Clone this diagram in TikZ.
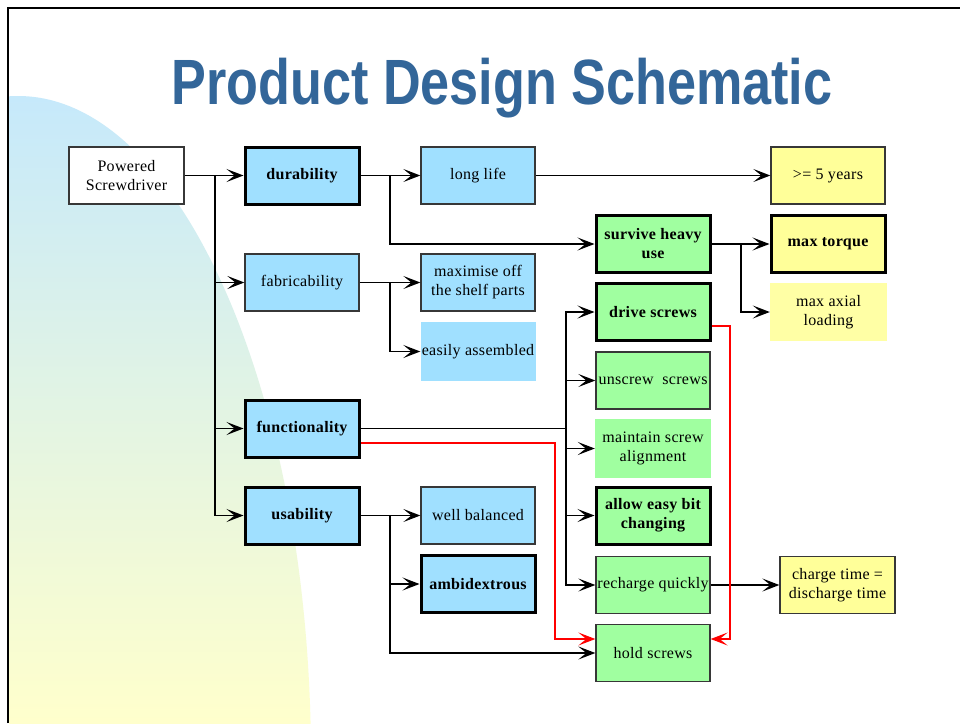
\documentclass[tikz,border=0pt]{standalone}
\usepackage{graphicx}
\usepackage{fontspec}
\setmainfont[LetterSpace=2]{Liberation Serif}
\newfontfamily\titlefont{Liberation Sans}
\usetikzlibrary{arrows.meta}
\definecolor{boxblue}{RGB}{160,224,255}
\definecolor{boxgreen}{RGB}{160,255,160}
\definecolor{boxyellow}{RGB}{255,255,153}
\definecolor{paleyellow}{RGB}{255,255,165}
\definecolor{titleblue}{RGB}{51,102,153}
\definecolor{bgblue}{RGB}{198,233,251}
\definecolor{bgyellow}{RGB}{255,255,204}
\definecolor{thinline}{RGB}{55,55,55}
\begin{document}
\begin{tikzpicture}[x=1pt,y=-1pt,
  box/.style={minimum width=114pt,minimum height=57pt,inner sep=0pt,align=center,
              font=\fontsize{16}{19}\selectfont},
  thinb/.style={draw=thinline,line width=1.3pt},
  thickb/.style={draw=black,line width=3pt,font=\fontsize{16}{19}\selectfont\bfseries},
  bbox/.style={box,fill=boxblue},
  gbox/.style={box,fill=boxgreen},
  ybox/.style={box,fill=boxyellow},
  wbox/.style={box,fill=white},
  conn/.style={line width=1.4pt,-{Stealth[length=17pt,width=13pt,inset=8pt]}},
  plainline/.style={line width=1.4pt},
  redconn/.style={red,line width=1.2pt,-{Stealth[length=17pt,width=13pt,inset=8pt]}}
]
\useasboundingbox (0,0) rectangle (960,723);
\fill[white] (0,0) rectangle (960,723);
% background curved shape
\begin{scope}
  \clip (9,0) rectangle (960,723);
  \clip (18,760) ellipse [x radius=293, y radius=664];
  \shade[top color=bgblue, bottom color=bgyellow] (9,96) rectangle (320,723);
\end{scope}
% frame
\draw[line width=2pt] (8,723) -- (8,7.5) -- (960,7.5);
% title
\node[anchor=base,text=titleblue,inner sep=0pt] (title) at (502,104)
  {\titlefont\bfseries\fontsize{64}{64}\selectfont\scalebox{0.815}[1]{Product Design Schematic}};

% nodes
\node[wbox,thinb,minimum width=115pt] (pow) at (126.5,175.5) {Powered\\Screwdriver};
\node[bbox,thickb] (dur) at (302,175.5) {durability};
\node[bbox,thinb] (life) at (478,175.5) {long life};
\node[ybox,thinb] (yrs) at (828,175.5) {>= 5 years};
\node[bbox,thinb] (fab) at (302,282.5) {fabricability};
\node[bbox,thinb] (maxp) at (478,282.5) {maximise off\\the shelf parts};
\node[bbox,minimum width=115pt,minimum height=59pt] (easy) at (478,351.5) {easily assembled};
\node[gbox,thickb] (surv) at (653,244) {survive heavy\\use};
\node[ybox,thickb] (torq) at (828,244) {max torque};
\node[gbox,thickb] (drive) at (653,312) {drive screws};
\node[box,fill=paleyellow,minimum width=117pt,minimum height=58pt] (axial) at (828.5,312) {max axial\\loading};
\node[gbox,thinb] (unscr) at (653,380.5) {unscrew\ \ screws};
\node[gbox,minimum width=116pt,minimum height=59pt] (maint) at (653,448.5) {maintain screw\\alignment};
\node[bbox,thickb] (func) at (302,428.5) {functionality};
\node[gbox,thickb] (allow) at (653,515.5) {allow easy bit\\changing};
\node[bbox,thickb] (usab) at (302,515.5) {usability};
\node[bbox,thinb] (well) at (478,515.5) {well balanced};
\node[bbox,thickb] (ambi) at (478,584) {ambidextrous};
\node[gbox,thinb] (rech) at (653,585) {recharge quickly};
\node[ybox,thinb,minimum width=115pt] (charge) at (837.5,585) {charge time =\\discharge time};
\node[gbox,thinb] (hold) at (653,653) {hold screws};

% trunk coordinates
\coordinate (t1) at (215,175.5);
\coordinate (t2) at (390,175.5);
\coordinate (t3) at (390,282.5);
\coordinate (t4) at (741,244);
\coordinate (t5) at (566,428.5);
\coordinate (t6) at (390,515.5);
\coordinate (r1) at (555,639);
\coordinate (r2) at (730,639);

% connectors
\draw[conn] (pow.east) -- (dur.west);
\draw[conn] (t1) |- (fab.west);
\draw[conn] (t1) |- (func.west);
\draw[conn] (t1) |- (usab.west);

\draw[conn] (dur.east) -- (life.west);
\draw[conn] (t2) |- (surv.west);
\draw[conn] (life.east) -- (yrs.west);

\draw[conn] (fab.east) -- (maxp.west);
\draw[conn] (t3) |- (easy.west);

\draw[conn] (surv.east) -- (torq.west);
\draw[conn] (t4) |- (axial.west);

\draw[plainline] (func.east) -- (t5);
\draw[conn] (t5) |- (drive.west);
\draw[conn] (t5) |- (unscr.west);
\draw[conn] (t5) |- (maint.west);
\draw[conn] (t5) |- (allow.west);
\draw[conn] (t5) |- (rech.west);

\draw[conn] (rech.east) -- (charge.west);

\draw[conn] (usab.east) -- (well.west);
\draw[conn] (t6) |- (ambi.west);
\draw[conn] (t6) |- (hold.west);

% red connectors
\draw[redconn] ([yshift=-14.5pt]func.east) -| (r1) -- ([yshift=14pt]hold.west);
\draw[redconn] ([yshift=-14pt]drive.east) -| (r2) -- ([yshift=14pt]hold.east);
\end{tikzpicture}
\end{document}
